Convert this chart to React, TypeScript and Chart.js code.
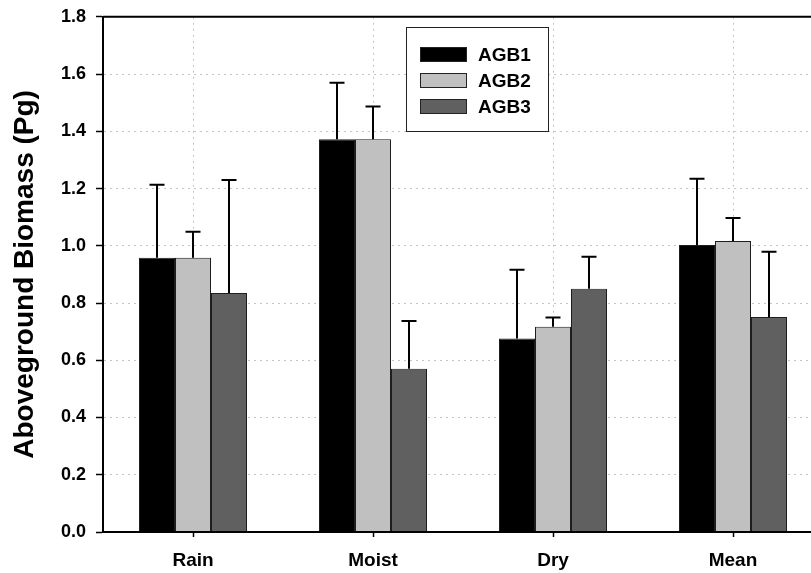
import React, { useEffect, useRef } from "react";
import { Chart, registerables } from "chart.js";

Chart.register(...registerables);

const categories = ["Rain", "Moist", "Dry", "Mean"];
const seriesLabels = ["AGB1", "AGB2", "AGB3"];
const agb1 = [0.958, 1.372, 0.676, 1.003];
const agb2 = [0.958, 1.372, 0.717, 1.017];
const agb3 = [0.835, 0.57, 0.85, 0.751];
const agb1Err = [0.255, 0.198, 0.24, 0.231];
const agb2Err = [0.091, 0.115, 0.032, 0.08];
const agb3Err = [0.395, 0.167, 0.112, 0.228];
const seriesColors = ["#000000", "#c0c0c0", "#606060"];
const yMin = 0;
const yMax = 1.8;
const yStep = 0.2;

const FONT = "'Liberation Sans', Arial, Helvetica, sans-serif";
const SHIFT = 4;

const errorBarPlugin = {
  id: "errorBars",
  afterDatasetsDraw(chart: any) {
    const { ctx, chartArea } = chart;
    const yScale = chart.scales.y;
    ctx.save();
    chart.data.datasets.forEach((ds: any, i: number) => {
      const meta = chart.getDatasetMeta(i);
      meta.data.forEach((el: any, j: number) => {
        const v = ds.data[j];
        const e = ds.errors[j];
        const yTop = yScale.getPixelForValue(v + e);
        const yBase = yScale.getPixelForValue(v);
        ctx.strokeStyle = "#000";
        ctx.lineWidth = 2;
        ctx.beginPath();
        ctx.moveTo(el.x, yBase);
        ctx.lineTo(el.x, yTop);
        ctx.moveTo(el.x - 7.5, yTop);
        ctx.lineTo(el.x + 7.5, yTop);
        ctx.stroke();
      });
    });
    ctx.strokeStyle = "#000";
    ctx.lineWidth = 2;
    ctx.beginPath();
    ctx.moveTo(chartArea.left, chartArea.top);
    ctx.lineTo(chartArea.right, chartArea.top);
    ctx.moveTo(chartArea.left, chartArea.top);
    ctx.lineTo(chartArea.left, chartArea.bottom);
    ctx.lineTo(chartArea.right, chartArea.bottom);
    ctx.stroke();
    ctx.restore();
  },
};

const legendPlugin = {
  id: "boxLegend",
  afterDraw(chart: any) {
    const { ctx } = chart;
    const bx = 406.5;
    const by = 27.5 + SHIFT;
    const bw = 142;
    const bh = 104;
    ctx.save();
    ctx.fillStyle = "#ffffff";
    ctx.fillRect(bx, by, bw, bh);
    ctx.strokeStyle = "#222";
    ctx.lineWidth = 1;
    ctx.strokeRect(bx, by, bw, bh);
    chart.data.datasets.forEach((ds: any, i: number) => {
      const sy = 47.5 + SHIFT + i * 26;
      ctx.fillStyle = ds.backgroundColor;
      ctx.fillRect(420.5, sy, 46, 14);
      ctx.strokeStyle = "#222";
      ctx.strokeRect(420.5, sy, 46, 14);
      ctx.fillStyle = "#000";
      ctx.font = `bold 19px ${FONT}`;
      ctx.textBaseline = "middle";
      ctx.textAlign = "left";
      ctx.fillText(ds.label, 478, sy + 8);
    });
    ctx.restore();
  },
};

export default function App() {
  const ref = useRef<HTMLCanvasElement | null>(null);

  useEffect(() => {
    if (!ref.current) return;
    const values = [agb1, agb2, agb3];
    const errs = [agb1Err, agb2Err, agb3Err];
    const chart = new Chart(ref.current, {
      type: "bar",
      data: {
        labels: categories,
        datasets: seriesLabels.map((label, i) => ({
          label,
          data: values[i],
          errors: errs[i],
          backgroundColor: seriesColors[i],
          borderColor: "#1e1e1e",
          borderWidth: 1,
          categoryPercentage: 0.6,
          barPercentage: 1.0,
        })) as any,
      },
      options: {
        animation: false,
        responsive: false,
        devicePixelRatio: 1,
        layout: { padding: { top: 12, right: 0, left: 0, bottom: 0 } },
        plugins: {
          legend: { display: false },
          tooltip: { enabled: false },
        },
        scales: {
          x: {
            grid: {
              offset: false,
              color: "#c4c4c4",
              lineWidth: 1,
              drawTicks: true,
              tickLength: 5,
              tickColor: "#000",
              tickWidth: 1.5,
            },
            border: { display: true, color: "#000", width: 2, dash: [2, 4] },
            ticks: {
              color: "#000",
              padding: 12,
              font: { family: FONT, size: 19, weight: "bold" },
            },
            afterFit(scale: any) {
              scale.height = 41;
            },
          },
          y: {
            min: yMin,
            max: yMax,
            grid: {
              color: (c: any) =>
                c.tick && (Math.abs(c.tick.value - yMin) < 1e-6 || Math.abs(c.tick.value - yMax) < 1e-6)
                  ? "rgba(0,0,0,0)"
                  : "#c4c4c4",
              lineWidth: 1,
              drawTicks: true,
              tickLength: 7,
              tickColor: "#000",
              tickWidth: 1.5,
            },
            border: { display: true, color: "#000", width: 2, dash: [2, 4] },
            ticks: {
              stepSize: yStep,
              color: "#000",
              padding: 10,
              font: { family: FONT, size: 18, weight: "bold" },
              callback: (v: any) => Number(v).toFixed(1),
            },
            title: {
              display: true,
              text: "Aboveground Biomass (Pg)",
              color: "#000",
              font: { family: FONT, size: 28, weight: "bold" },
              padding: { top: 8, bottom: 0 },
            },
            afterFit(scale: any) {
              scale.width = 103;
            },
          },
        },
      } as any,
      plugins: [errorBarPlugin, legendPlugin],
    });
    return () => chart.destroy();
  }, []);

  return (
    <div
      style={{
        position: "fixed",
        left: 0,
        top: 0,
        width: 811,
        height: 573,
        overflow: "hidden",
        background: "#fff",
      }}
    >
      <canvas
        ref={ref}
        width={823}
        height={573 + SHIFT}
        style={{ display: "block", position: "absolute", left: 0, top: -SHIFT }}
      />
    </div>
  );
}
